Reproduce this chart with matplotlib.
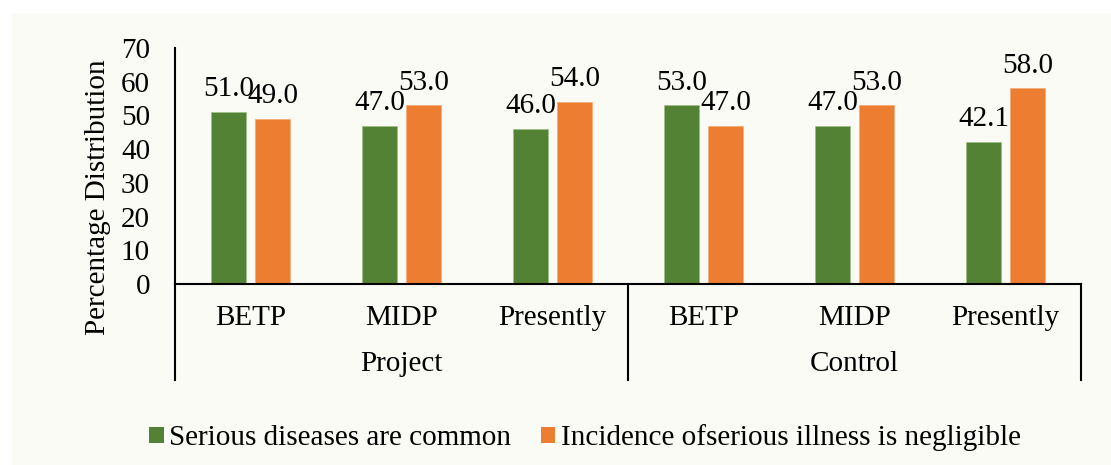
import matplotlib
matplotlib.use("Agg")
import matplotlib.pyplot as plt
from matplotlib.patches import Rectangle, Patch
import numpy as np

groups = ["Project", "Control"]
periods = ["BETP", "MIDP", "Presently", "BETP", "MIDP", "Presently"]
series_names = ["Serious diseases are common", "Incidence ofserious illness is negligible"]
common = [51.0, 47.0, 46.0, 53.0, 47.0, 42.1]
negligible = [49.0, 53.0, 54.0, 47.0, 53.0, 58.0]
yticks = [0, 10, 20, 30, 40, 50, 60, 70]

GREEN = "#548235"
ORANGE = "#ED7D31"
BG = "#FAFBF5"
FS = 21

plt.rcParams["font.family"] = ["Liberation Serif", "DejaVu Serif"]

fig = plt.figure(figsize=(11.11, 4.65), dpi=100)
fig.patch.set_facecolor("white")
fig.patches.append(Rectangle((12/1111, 0), 1, (465-13)/465, transform=fig.transFigure,
                             facecolor=BG, edgecolor="none", zorder=-10))

ax = fig.add_axes([175/1111, 1-284/465, (1081-175)/1111, (284-48)/465])
ax.set_facecolor("none")

x = np.arange(len(periods))
w = 0.23
off = 0.145
b1 = ax.bar(x - off, common, w, color=GREEN, edgecolor="#9fbf86", linewidth=0.6, label=series_names[0])
b2 = ax.bar(x + off, negligible, w, color=ORANGE, edgecolor="#f3ad7c", linewidth=0.6, label=series_names[1])

for bars, vals in ((b1, common), (b2, negligible)):
    for r, v in zip(bars, vals):
        ax.annotate(f"{v:.1f}", (r.get_x() + r.get_width()/2, v), xytext=(0, 7),
                    textcoords="offset points", ha="center", va="bottom", fontsize=FS)

ax.set_xlim(-0.5, len(periods) - 0.5)
ax.set_ylim(0, 70)
ax.set_yticks(yticks)
ax.set_yticklabels([str(t) for t in yticks], fontsize=FS)
ax.tick_params(axis="y", length=0, pad=18)
ax.tick_params(axis="x", length=0, labelbottom=False)
for s in ("top", "right"):
    ax.spines[s].set_visible(False)
ax.spines["left"].set_linewidth(1.5)
ax.spines["bottom"].set_linewidth(1.5)

# two-level category axis
axh = (284-48)
depth = (380-284)/axh
for xa in (0, 0.5, 1):
    ax.plot([xa, xa], [0, -depth], transform=ax.transAxes, color="black", lw=1.5, clip_on=False)

trans = ax.get_xaxis_transform()
for xi, lab in zip(x, periods):
    ax.text(xi, -(318-284)/axh, lab, transform=trans, ha="center", va="center", fontsize=FS)
for gi, g in enumerate(groups):
    ax.text(gi*3 + 1, -(364-284)/axh, g, transform=trans, ha="center", va="center", fontsize=FS)

handles = [Patch(facecolor=GREEN, edgecolor="none"), Patch(facecolor=ORANGE, edgecolor="none")]
fig.legend(handles, series_names, loc="center", bbox_to_anchor=(585/1111, 1-438/465), ncol=2,
           frameon=False, fontsize=FS, handlelength=0.5, handleheight=0.5, handletextpad=0.2,
           columnspacing=1.0)

fig.text(98/1111, 1-197/465, "Percentage Distribution", rotation=90, ha="center", va="center", fontsize=FS)

fig.savefig("out.png", dpi=100, facecolor=fig.get_facecolor())
